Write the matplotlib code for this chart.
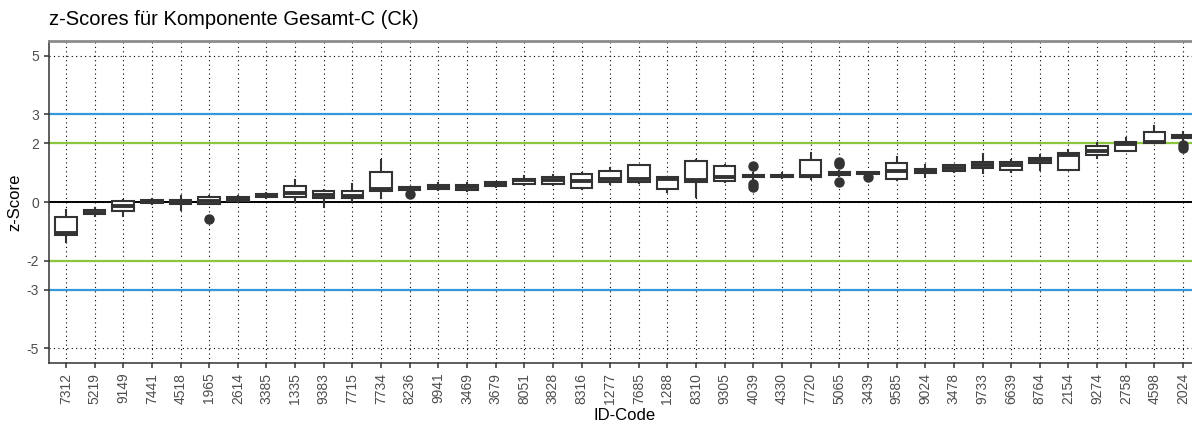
import matplotlib
matplotlib.use("Agg")
import matplotlib.pyplot as plt

plt.rcParams['font.family'] = ['Liberation Sans', 'DejaVu Sans']

# ID codes in plotting order
categories = ["7312", "5219", "9149", "7441", "4518", "1965", "2614", "3385", "1335", "9383",
              "7715", "7734", "8236", "9941", "3469", "3679", "8051", "3828", "8316", "1277",
              "7685", "1288", "8310", "9305", "4039", "4330", "7720", "5065", "3439", "9585",
              "9024", "3478", "9733", "6639", "8764", "2154", "9274", "2758", "4598", "2024"]

# Box statistics of the z-scores per participant
whislo = [-1.35, -0.47, -0.48, -0.07, -0.27, -0.08, 0.00, 0.15, 0.00, -0.18,
          0.05, 0.12, 0.38, 0.40, 0.36, 0.50, 0.58, 0.57, 0.45, 0.63,
          0.64, 0.35, 0.16, 0.67, 0.80, 0.83, 0.80, 0.90, 0.93, 0.74,
          0.87, 1.02, 0.98, 1.04, 1.11, 1.09, 1.49, 1.75, 2.00, 2.12]
q1 = [-1.12, -0.42, -0.30, -0.04, -0.07, -0.08, 0.02, 0.17, 0.18, 0.13,
      0.12, 0.38, 0.40, 0.44, 0.42, 0.53, 0.61, 0.61, 0.49, 0.69,
      0.70, 0.45, 0.68, 0.73, 0.85, 0.85, 0.86, 0.93, 0.95, 0.80,
      1.00, 1.05, 1.15, 1.09, 1.32, 1.09, 1.62, 1.75, 2.03, 2.17]
med = [-1.06, -0.36, -0.15, 0.01, 0.00, 0.03, 0.10, 0.22, 0.32, 0.23,
       0.22, 0.44, 0.45, 0.52, 0.50, 0.60, 0.74, 0.76, 0.73, 0.80,
       0.77, 0.77, 0.76, 0.85, 0.89, 0.88, 0.90, 0.97, 0.98, 1.06,
       1.07, 1.16, 1.26, 1.27, 1.42, 1.60, 1.73, 1.97, 2.06, 2.22]
q3 = [-0.52, -0.29, 0.03, 0.06, 0.07, 0.17, 0.16, 0.28, 0.55, 0.38,
      0.38, 1.01, 0.50, 0.59, 0.57, 0.68, 0.80, 0.86, 0.95, 1.06,
      1.27, 0.84, 1.40, 1.24, 0.93, 0.91, 1.43, 1.02, 1.02, 1.34,
      1.14, 1.26, 1.36, 1.35, 1.50, 1.66, 1.92, 2.05, 2.39, 2.28]
whishi = [-0.27, -0.22, 0.08, 0.10, 0.20, 0.20, 0.19, 0.31, 0.75, 0.42,
          0.60, 1.45, 0.52, 0.66, 0.66, 0.70, 0.88, 0.92, 1.00, 1.15,
          1.28, 0.86, 1.45, 1.28, 1.00, 0.98, 1.66, 1.05, 1.04, 1.55,
          1.25, 1.28, 1.63, 1.45, 1.60, 1.77, 2.00, 2.19, 2.59, 2.40]
outliers = {"1965": [-0.59], "8236": [0.26], "4039": [1.24, 0.60, 0.50],
            "5065": [1.38, 1.30, 0.68], "3439": [0.85], "2024": [1.95, 1.83]}

ytick_vals = [-5, -3, -2, 0, 2, 3, 5]

fig = plt.figure(figsize=(11.92, 4.25), dpi=100)
ax = fig.add_axes([0.0409, 0.1459, 0.966, 0.7576])

n = len(categories)
positions = list(range(1, n + 1))

# dotted grid
for p in positions:
    ax.axvline(p, color="black", lw=0.8, ls=(0, (1, 3)), zorder=0)
for v in ytick_vals:
    ax.axhline(v, color="black", lw=0.8, ls=(0, (1, 3)), zorder=0)

# reference lines
ax.axhline(3, color="#3498db", lw=1.6, zorder=1)
ax.axhline(-3, color="#3498db", lw=1.6, zorder=1)
ax.axhline(2, color="#8cc63e", lw=1.6, zorder=1)
ax.axhline(-2, color="#8cc63e", lw=1.6, zorder=1)
ax.axhline(0, color="black", lw=1.4, zorder=1)

stats = []
for i, c in enumerate(categories):
    stats.append(dict(label=c, whislo=whislo[i], q1=q1[i], med=med[i], q3=q3[i],
                      whishi=whishi[i], fliers=outliers.get(c, [])))

edge = "#333333"
ax.bxp(stats, positions=positions, widths=0.75, patch_artist=True, showcaps=False,
       boxprops=dict(facecolor="white", edgecolor=edge, linewidth=1.5),
       medianprops=dict(color=edge, linewidth=2.8),
       whiskerprops=dict(color=edge, linewidth=1.5),
       flierprops=dict(marker="o", markerfacecolor=edge, markeredgecolor=edge,
                       markersize=6.5, linestyle="none"),
       zorder=3)

ax.set_xlim(0.4, n + 0.6)
ax.set_ylim(-5.5, 5.5)
ax.set_yticks(ytick_vals)
ax.set_yticklabels([str(v) for v in ytick_vals])
ax.set_xticks(positions)
ax.set_xticklabels(categories, rotation=90)

ax.tick_params(axis="both", colors="#333333", labelcolor="#4d4d4d", labelsize=10,
               length=3.5, width=1.1)

for s in ["left", "bottom"]:
    ax.spines[s].set_color("#333333")
    ax.spines[s].set_linewidth(1.1)
ax.spines["top"].set_color("#8c8c8c")
ax.spines["top"].set_linewidth(2)
ax.spines["right"].set_visible(False)

ax.set_ylabel("z-Score", fontsize=12, color="black", labelpad=3)
ax.set_xlabel("ID-Code", fontsize=12, color="black", labelpad=3)
fig.text(0.0409, 0.953, "z-Scores für Komponente Gesamt-C (Ck)", fontsize=14.5,
         ha="left", va="center", color="black")

fig.savefig("out.png", dpi=100)
